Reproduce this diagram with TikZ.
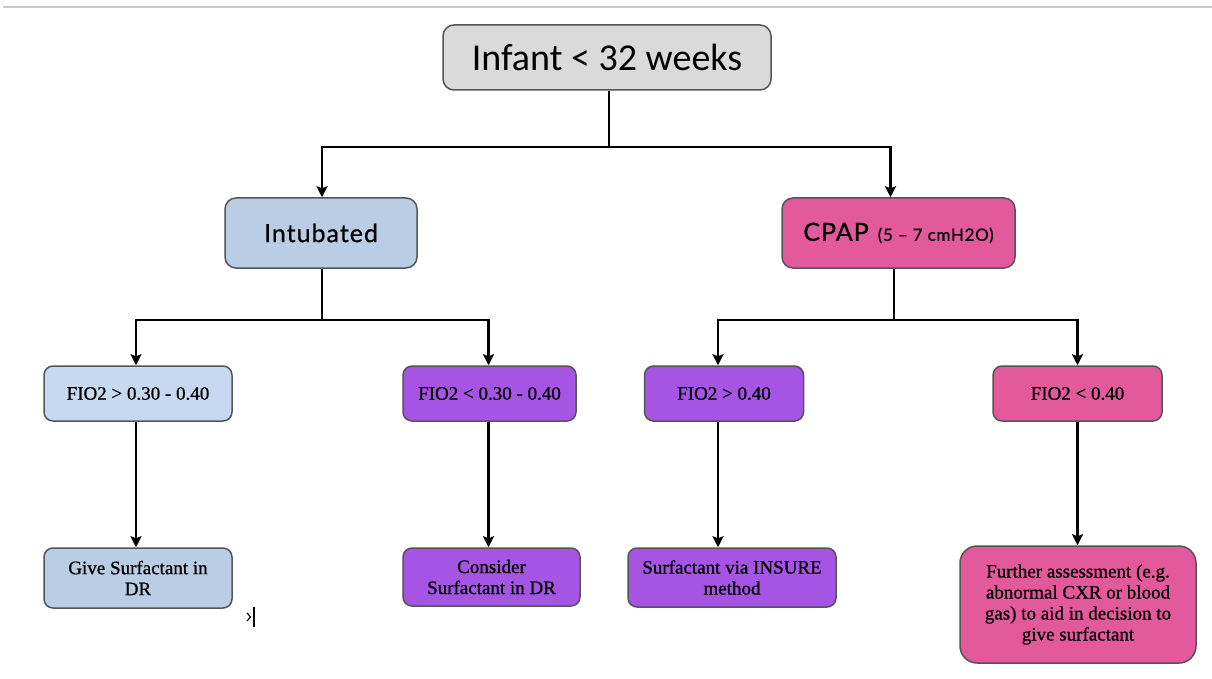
\documentclass[tikz,border=0pt]{standalone}
\usepackage{fontspec}
\setmainfont[FakeBold=0.7]{Liberation Serif}
\newfontfamily\calfont{Carlito}
\newfontfamily\gillfont[LetterSpace=4,FakeBold=0.6]{Lato}
\usetikzlibrary{arrows.meta}
\definecolor{boxgray}{RGB}{218,218,218}
\definecolor{boxblue}{RGB}{185,205,229}
\definecolor{boxlblue}{RGB}{198,217,241}
\definecolor{boxpurple}{RGB}{166,84,228}
\definecolor{boxpink}{RGB}{226,89,156}
\definecolor{edgegray}{RGB}{85,85,85}
\definecolor{rulegray}{RGB}{200,200,200}
\tikzset{
  box/.style={draw=edgegray, line width=1.5pt, rounded corners=11pt, inner sep=0pt, align=center, anchor=center},
  small/.style={box, rounded corners=9pt, font=\fontsize{19}{21}\selectfont},
  arr/.style={line width=2.4pt, -{Stealth[length=11pt,width=11pt,inset=2pt]}},
}
\begin{document}
\begin{tikzpicture}[x=1pt,y=-1pt]
\useasboundingbox (0,0) rectangle (1212,679);
\draw[rulegray, line width=2pt] (3,7) -- (1212,7);

\node[box, fill=boxgray, minimum width=328pt, minimum height=65pt, font=\calfont\fontsize{38}{40}\selectfont] (infant) at (607,57.5) {Infant < 32 weeks};
\node[box, fill=boxblue, minimum width=192pt, minimum height=70pt, font=\gillfont\fontsize{25}{28}\selectfont] (intub) at (321,233) {Intubated};
\node[box, fill=boxpink, minimum width=233pt, minimum height=70pt, font=\gillfont] (cpap) at (898.5,233) {\fontsize{25}{28}\selectfont CPAP\hspace{9pt}\fontsize{17}{20}\selectfont(5 – 7 cmH2O)};

\node[small, fill=boxlblue, minimum width=188pt, minimum height=55pt] (f1) at (138,393.5) {FIO2 > 0.30 - 0.40};
\node[small, fill=boxpurple, minimum width=173pt, minimum height=55pt] (f2) at (489.5,393.5) {FIO2 < 0.30 - 0.40};
\node[small, fill=boxpurple, minimum width=159pt, minimum height=55pt] (f3) at (724,393.5) {FIO2 > 0.40};
\node[small, fill=boxpink, minimum width=169pt, minimum height=55pt] (f4) at (1077.5,393.5) {FIO2 < 0.40};

\node[small, fill=boxblue, minimum width=188pt, minimum height=60pt] (g1) at (138,578) {Give Surfactant in\\DR};
\node[small, fill=boxpurple, minimum width=177pt, minimum height=58pt] (g2) at (491.5,577) {Consider\\Surfactant in DR};
\node[small, fill=boxpurple, minimum width=208pt, minimum height=59pt] (g3) at (732,577.5) {Surfactant via INSURE\\method};
\node[small, fill=boxpink, rounded corners=17pt, minimum width=236pt, minimum height=117pt] (g4) at (1078,604.5) {Further assessment (e.g.\\abnormal CXR or blood\\gas) to aid in decision to\\give surfactant};

\coordinate (j1) at (609,147);
\coordinate (j2) at (322,320);
\coordinate (j3) at (894,320);

\draw[arr] ([xshift=2pt]infant.south) -- ([xshift=2pt]infant.south |- j1) -| ([xshift=1pt]intub.north);
\draw[arr] ([xshift=2pt]infant.south) -- ([xshift=2pt]infant.south |- j1) -| ([xshift=-8pt]cpap.north);

\draw[arr] ([xshift=1pt]intub.south) -- ([xshift=1pt]intub.south |- j2) -| ([xshift=-2pt]f1.north);
\draw[arr] ([xshift=1pt]intub.south) -- ([xshift=1pt]intub.south |- j2) -| ([xshift=-1pt]f2.north);
\draw[arr] ([xshift=-4.5pt]cpap.south) -- ([xshift=-4.5pt]cpap.south |- j3) -| ([xshift=-6pt]f3.north);
\draw[arr] ([xshift=-4.5pt]cpap.south) -- ([xshift=-4.5pt]cpap.south |- j3) -| ([xshift=0pt]f4.north);

\draw[arr] ([xshift=-2pt]f1.south) -- ([xshift=-2pt]f1.south |- g1.north);
\draw[arr] ([xshift=-1pt]f2.south) -- ([xshift=-1pt]f2.south |- g2.north);
\draw[arr] ([xshift=-6pt]f3.south) -- ([xshift=-6pt]f3.south |- g3.north);
\draw[arr] (f4.south) -- (f4.south |- g4.north);

% stray cursor mark
\draw[line width=1.2pt] (254,607) -- (254,627);
\draw[line width=1.2pt] (247,613) -- (250.5,617) -- (247,621);
\end{tikzpicture}
\end{document}
